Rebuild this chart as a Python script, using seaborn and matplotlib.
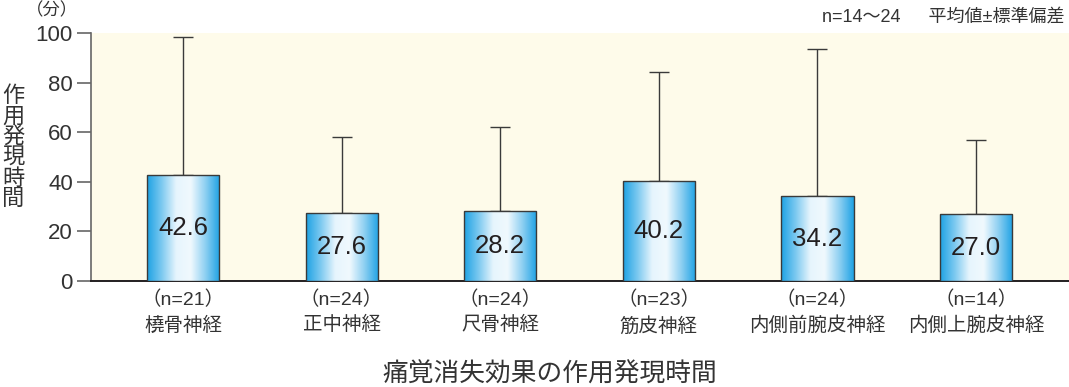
import numpy as np
import pandas as pd
import matplotlib
matplotlib.use("Agg")
import matplotlib.pyplot as plt
import seaborn as sns
from matplotlib.colors import LinearSegmentedColormap

# ---- data ----
nerves = ["橈骨神経", "正中神経", "尺骨神経", "筋皮神経", "内側前腕皮神経", "内側上腕皮神経"]
n_counts = [21, 24, 24, 23, 24, 14]
means = [42.6, 27.6, 28.2, 40.2, 34.2, 27.0]
sds = [55.8, 30.5, 33.9, 44.1, 59.3, 29.9]
yticks = [0, 20, 40, 60, 80, 100]

sns.set_theme(style="white")
plt.rcParams['font.family'] = ['Liberation Sans', 'Noto Sans CJK JP', 'DejaVu Sans']

labels = [f"（n={n}）\n{name}" for n, name in zip(n_counts, nerves)]
df = pd.DataFrame({"label": labels, "mean": means})

fig = plt.figure(figsize=(10.69, 3.87), dpi=100)
ax = fig.add_axes([91/1069, 1-281/387, 1-91/1069, (281-33)/387])
ax.set_facecolor("#fefbea")

sns.barplot(data=df, x="label", y="mean", color="#2aa7e6", width=0.455,
            edgecolor="#3a3a3a", linewidth=1.0, ax=ax, zorder=3)

# gradient fill
cmap = LinearSegmentedColormap.from_list(
    "blu", ["#1ea2e4", "#7cc9f0", "#e6f5fd", "#f0f9fe", "#8fd0f2", "#1ea2e4"])
grad = np.linspace(0, 1, 256).reshape(1, -1)
xlim = (-0.58, 5.586)
for p in ax.patches:
    x0, y0 = p.get_x(), p.get_y()
    w, h = p.get_width(), p.get_height()
    im = ax.imshow(grad, extent=[x0, x0 + w, y0, y0 + h], cmap=cmap,
                   aspect="auto", zorder=3.5, interpolation="bicubic")
    im.set_clip_path(p)
    p.set_facecolor("none")
    p.set_zorder(4)

x = np.arange(len(means))
ax.errorbar(x, means, yerr=[np.zeros(len(sds)), sds], fmt="none",
            ecolor="#3a3a3a", elinewidth=1.0, capsize=7.2, capthick=1.0, zorder=2)

for xi, m in zip(x, means):
    ax.text(xi, m / 2, f"{m:.1f}", ha="center", va="center",
            fontsize=18.5, color="#231f20", zorder=5)

ax.set_xlim(*xlim)
ax.set_ylim(0, 100)
ax.set_yticks(yticks)
ax.set_yticklabels([str(t) for t in yticks], fontsize=16, color="#333333")
ax.tick_params(axis="y", direction="out", length=10, width=1.2, color="#666666", pad=3, left=True)
ax.tick_params(axis="x", length=0, pad=7, labelsize=14, labelcolor="#333333")
for lbl in ax.get_xticklabels():
    lbl.set_linespacing(1.5)
ax.set_xlabel("")
ax.set_ylabel("")
for s in ["top", "right"]:
    ax.spines[s].set_visible(False)
ax.spines["left"].set_color("#666666")
ax.spines["left"].set_linewidth(1.2)
ax.spines["bottom"].set_color("#231f20")
ax.spines["bottom"].set_linewidth(1.4)

fig.text(13/1069, 1-148/387, "作\n用\n発\n現\n時\n間", ha="center", va="center",
         fontsize=16, color="#333333", linespacing=0.98)
fig.text(52/1069, 1-10/387, "（分）", ha="center", va="center", fontsize=12.5, color="#333333")
fig.text(1065/1069, 1-17/387, "n=14～24　  平均値±標準偏差", ha="right", va="center",
         fontsize=13, color="#333333")
fig.text(550/1069, 1-374/387, "痛覚消失効果の作用発現時間", ha="center", va="center",
         fontsize=18.5, color="#333333")

fig.savefig("out.png", dpi=100)
